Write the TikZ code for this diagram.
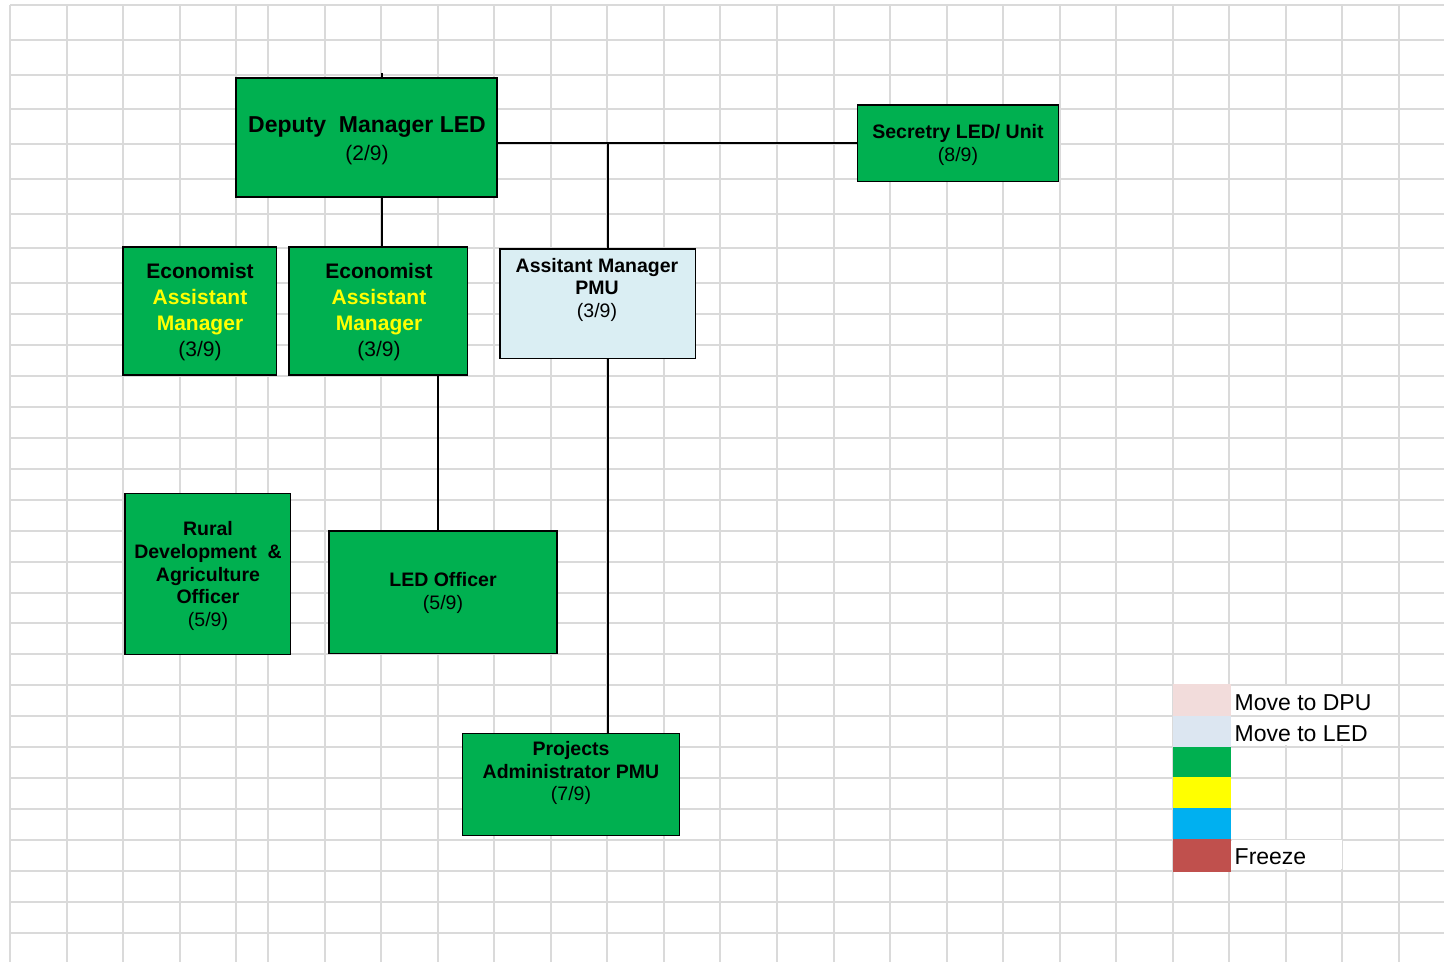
\documentclass[tikz,border=0pt]{standalone}
\usepackage{fontspec}
\setmainfont{Liberation Sans}
\usetikzlibrary{fit}

\definecolor{orggreen}{HTML}{00B050}
\definecolor{pmublue}{HTML}{DAEEF3}
\definecolor{keypink}{HTML}{F2DCDB}
\definecolor{keyblue}{HTML}{DCE6F1}
\definecolor{keyyellow}{HTML}{FFFF00}
\definecolor{keycyan}{HTML}{00B0F0}
\definecolor{keyred}{HTML}{C0504D}
\definecolor{gridgray}{HTML}{DADADA}

\tikzset{
  cell/.style={draw=gridgray, line width=2pt},
  post/.style={draw=black, line width=1.6pt, fill=orggreen, inner sep=0pt, outer sep=0pt},
  boxtext/.style={inner sep=0pt, align=center, text=black},
  conn/.style={draw=black, line width=2pt},
  swatch/.style={inner sep=0pt, outer sep=0pt},
  keytext/.style={anchor=west, inner sep=0pt, font=\fontsize{23}{26}\selectfont}
}

\begin{document}
\begin{tikzpicture}[x=1pt, y=-1pt]
  \useasboundingbox (0,0) rectangle (1444,962);
  \fill[white] (0,0) rectangle (1444,962);

  % sheet grid: narrow column after the fifth line, taller rows at the top
  \foreach \gx in {10,66.5,123,179.5,236}
    \draw[cell] (\gx,5) -- (\gx,962);
  \foreach \k in {0,...,20}
    \draw[cell] ({268+56.55*\k},5) -- ({268+56.55*\k},962);
  \foreach \k in {0,...,8}
    \draw[cell] (10,{5+34.75*\k}) -- (1444,{5+34.75*\k});
  \foreach \k in {1,...,21}
    \draw[cell] (10,{283+30.95*\k}) -- (1444,{283+30.95*\k});

  % key text overflows its cells and hides their borders
  \fill[white] (1231.5,685.8) rectangle (1398,714.5);
  \fill[white] (1231.5,716.7) rectangle (1398,745.4);
  \fill[white] (1231.5,840.3) rectangle (1342,869);

  % posts
  \node[post, fit={(236,78) (497,197)}] (dep) {};
  \node[post, fit={(857.5,105) (1058.5,181.5)}] (sec) {};
  \node[post, fit={(123,247) (276.5,375)}] (eco1) {};
  \node[post, fit={(289,247) (467.5,375)}] (eco2) {};
  \node[post, fill=pmublue, fit={(500,249) (695.5,358.5)}] (apm) {};
  \node[post, fit={(125,493.5) (290.5,654.5)}] (rur) {};
  \node[post, fit={(329,531) (557,653.5)}] (led) {};
  \node[post, fit={(462.5,733.5) (679.5,835.5)}] (proj) {};

  % reporting lines
  \coordinate (stub) at (381.7,73);
  \coordinate (tee) at (607.6,143.25);
  \coordinate (drop) at (438.3,375);
  \draw[conn] (dep.north -| stub) -- (stub);
  \draw[conn] (dep.south -| stub) -- (eco2.north -| stub);
  \draw[conn] (dep.east |- sec.west) -- (sec.west);
  \draw[conn] (tee) -- (apm.north -| tee);
  \draw[conn] (apm.south -| tee) -- (proj.north -| tee);
  \draw[conn] (eco2.south -| drop) -- (led.north -| drop);

  % post titles
  \node[boxtext, font=\fontsize{23}{28}\selectfont] (depT) at (367,141)
    {\textbf{Deputy\ \ Manager LED}\\{\fontsize{21}{28}\selectfont (2/9)}};
  \node[boxtext, font=\fontsize{19.5}{22.3}\selectfont] (secT) at (958,145)
    {\textbf{Secretry LED/ Unit}\\(8/9)};
  \node[boxtext, font=\fontsize{21}{25.9}\selectfont] (eco1T) at (200,312)
    {\textbf{Economist}\\\textbf{\color{keyyellow}Assistant}\\\textbf{\color{keyyellow}Manager}\\(3/9)};
  \node[boxtext, font=\fontsize{21}{25.9}\selectfont] (eco2T) at (379,312)
    {\textbf{Economist}\\\textbf{\color{keyyellow}Assistant}\\\textbf{\color{keyyellow}Manager}\\(3/9)};
  \node[boxtext, font=\fontsize{19.5}{22.5}\selectfont] (apmT) at (597,289.5)
    {\textbf{Assitant Manager}\\\textbf{PMU}\\(3/9)};
  \node[boxtext, font=\fontsize{19.5}{22.7}\selectfont] (rurT) at (208,576)
    {\textbf{Rural}\\\textbf{Development \ \&}\\\textbf{Agriculture}\\\textbf{Officer}\\(5/9)};
  \node[boxtext, font=\fontsize{19.5}{22.7}\selectfont] (ledT) at (443,593)
    {\textbf{LED Officer}\\(5/9)};
  \node[boxtext, font=\fontsize{19.5}{22.8}\selectfont] (projT) at (571,773)
    {\textbf{Projects}\\\textbf{Administrator PMU}\\(7/9)};

  % colour key
  \node[swatch, fill=keypink,   fit={(1172.5,684) (1230.5,715.6)}] (sw1) {};
  \node[swatch, fill=keyblue,   fit={(1172.5,715.6) (1230.5,746.5)}] (sw2) {};
  \node[swatch, fill=orggreen,  fit={(1172.5,746.5) (1230.5,777.4)}] (sw3) {};
  \node[swatch, fill=keyyellow, fit={(1172.5,777.4) (1230.5,808.3)}] (sw4) {};
  \node[swatch, fill=keycyan,   fit={(1172.5,808.3) (1230.5,839.2)}] (sw5) {};
  \node[swatch, fill=keyred,    fit={(1172.5,839.2) (1230.5,871.5)}] (sw6) {};
  \node[keytext] (k1) at (1234.5,703) {Move to DPU};
  \node[keytext] (k2) at (1234.5,734) {Move to LED};
  \node[keytext] (k6) at (1234.5,856.5) {Freeze};
\end{tikzpicture}
\end{document}
